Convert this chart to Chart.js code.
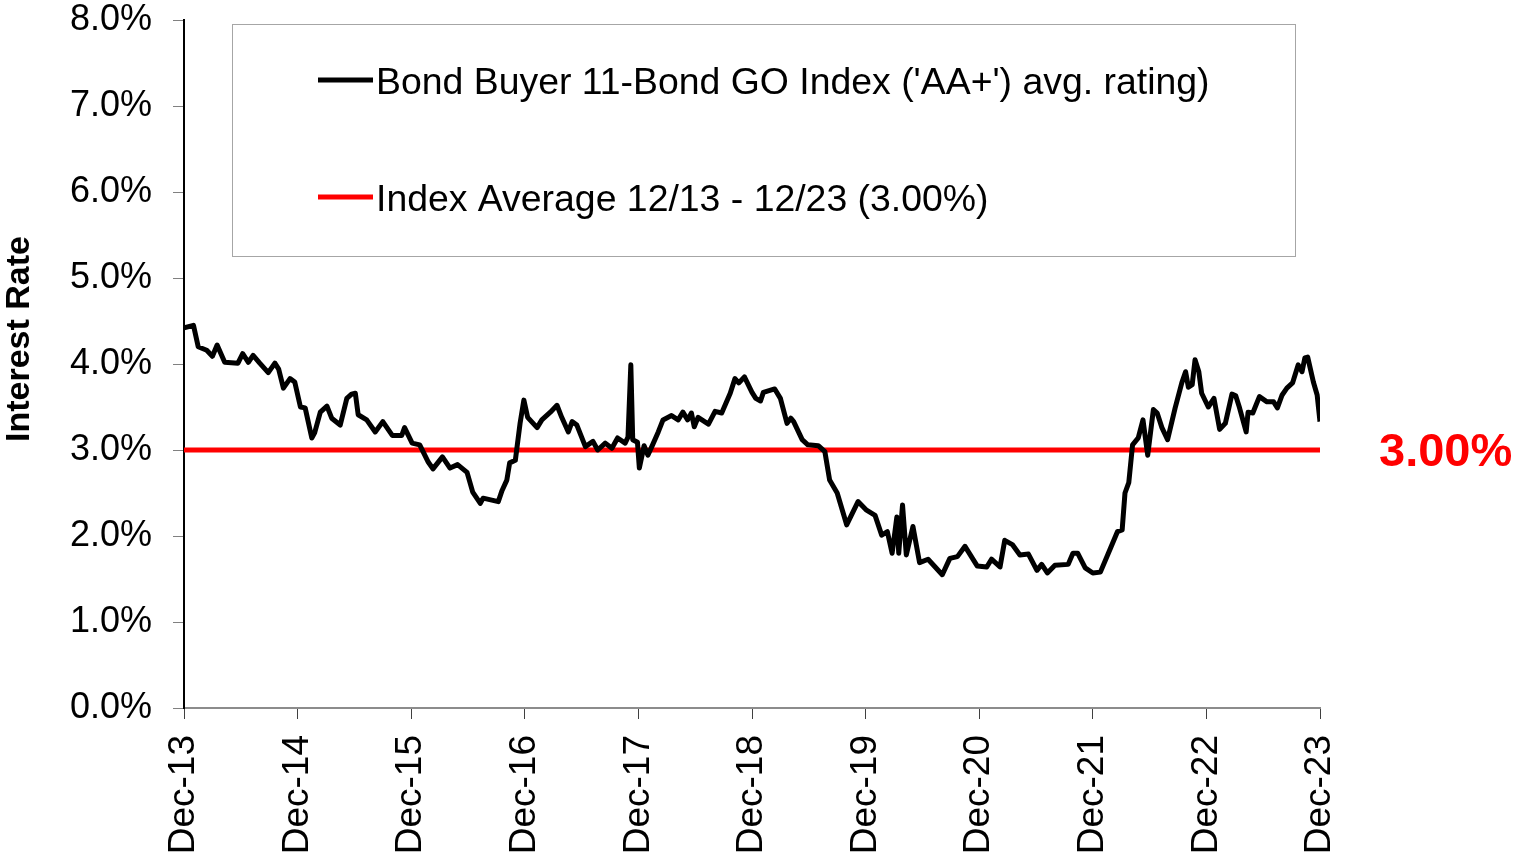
<!DOCTYPE html>
<html>
<head>
<meta charset="utf-8">
<script src="https://cdn.jsdelivr.net/npm/chart.js@4"></script>
<style>
  body { margin: 0; background: #fff; }
  canvas { display: block; }
</style>
</head>
<body>
<canvas id="myChart" width="1514" height="853"></canvas>
<script>
// months after Dec-13
var months = [0, 1.0, 1.5, 2.4, 3.0, 3.5, 4.3, 5.7, 6.2, 6.8, 7.3, 8.0, 8.9, 9.6, 10.0, 10.5, 11.2, 11.7,
  12.3, 12.8, 13.5, 13.8, 14.4, 15.1, 15.6, 16.5, 17.2, 17.7, 18.1, 18.4, 19.3, 20.2, 21.0, 22.0, 23.0, 23.3,
  24.1, 24.9, 25.8, 26.3, 27.3, 28.1, 28.9, 29.9, 30.5, 31.3, 31.6, 33.2, 33.6, 34.1, 34.4, 35.0, 35.5, 35.9,
  36.3, 37.3, 37.8, 38.7, 39.4, 39.9, 40.6, 41.0, 41.5, 42.4, 43.2, 43.7, 44.5, 45.2, 45.8, 46.6, 46.9, 47.2,
  47.4, 47.9, 48.1, 48.6, 49.0, 49.5, 50.1, 50.6, 51.5, 52.2, 52.7, 53.2, 53.6, 53.9, 54.3, 55.4, 56.1, 56.8,
  57.7, 58.2, 58.6, 59.2, 60.0, 60.4, 60.9, 61.2, 62.4, 63.0, 63.7, 64.1, 64.4, 65.3, 65.9, 67.0, 67.7, 68.2,
  69.0, 70.0, 71.2, 72.1, 73.0, 73.7, 74.3, 74.8, 75.3, 75.5, 75.9, 76.3, 77.0, 77.7, 78.6, 80.1, 80.9, 81.7,
  82.5, 83.8, 84.8, 85.3, 86.2, 86.7, 87.5, 88.3, 89.2, 90.1, 90.6, 91.2, 92.0, 93.4, 93.9, 94.4, 95.2, 96.0,
  96.8, 97.8, 98.6, 99.1, 99.4, 99.8, 100.2, 100.8, 101.3, 101.8, 102.4, 102.8, 103.3, 103.9, 104.7, 105.4,
  105.8, 106.1, 106.5, 106.8, 107.2, 107.5, 108.2, 108.8, 109.4, 110.0, 110.7, 111.1, 111.5, 112.2, 112.4,
  112.9, 113.6, 114.4, 115.1, 115.5, 116.0, 116.5, 117.1, 117.7, 118.1, 118.4, 118.7, 119.3, 119.7, 120.0];

var rates = [4.42, 4.45, 4.20, 4.16, 4.09, 4.22, 4.02, 4.01, 4.12, 4.02, 4.10, 4.01, 3.90, 4.01, 3.94, 3.72, 3.83, 3.79,
  3.50, 3.49, 3.14, 3.20, 3.44, 3.51, 3.37, 3.29, 3.60, 3.65, 3.66, 3.41, 3.35, 3.21, 3.33, 3.17, 3.17, 3.26,
  3.08, 3.06, 2.86, 2.78, 2.92, 2.79, 2.83, 2.74, 2.51, 2.38, 2.44, 2.40, 2.53, 2.65, 2.85, 2.88, 3.31, 3.58,
  3.38, 3.26, 3.35, 3.44, 3.52, 3.38, 3.21, 3.33, 3.29, 3.04, 3.10, 3.00, 3.08, 3.02, 3.14, 3.08, 3.15, 3.99,
  3.12, 3.09, 2.79, 3.05, 2.94, 3.06, 3.21, 3.35, 3.40, 3.35, 3.44, 3.35, 3.43, 3.27, 3.38, 3.30, 3.45, 3.43,
  3.66, 3.83, 3.78, 3.85, 3.67, 3.60, 3.57, 3.67, 3.71, 3.60, 3.31, 3.37, 3.33, 3.12, 3.06, 3.05, 2.98, 2.65,
  2.50, 2.13, 2.40, 2.30, 2.24, 2.01, 2.05, 1.80, 2.22, 1.80, 2.36, 1.78, 2.11, 1.69, 1.73, 1.55, 1.74, 1.76,
  1.88, 1.65, 1.64, 1.73, 1.64, 1.95, 1.90, 1.78, 1.79, 1.60, 1.67, 1.57, 1.66, 1.67, 1.80, 1.80, 1.63, 1.57,
  1.58, 1.84, 2.05, 2.07, 2.50, 2.62, 3.06, 3.14, 3.35, 2.94, 3.47, 3.43, 3.26, 3.12, 3.49, 3.78,
  3.91, 3.73, 3.76, 4.05, 3.91, 3.66, 3.50, 3.60, 3.24, 3.31, 3.65, 3.63, 3.49, 3.21, 3.44,
  3.43, 3.62, 3.56, 3.56, 3.49, 3.64, 3.72, 3.78, 3.99, 3.91, 4.07, 4.08, 3.79, 3.64, 3.33];

var avgRate = 3.00;
var tickLabels = ['Dec-13', 'Dec-14', 'Dec-15', 'Dec-16', 'Dec-17', 'Dec-18', 'Dec-19', 'Dec-20', 'Dec-21', 'Dec-22', 'Dec-23'];
var seriesNames = ["Bond Buyer 11-Bond GO Index ('AA+') avg. rating)", 'Index Average 12/13 - 12/23 (3.00%)'];
var yTitle = 'Interest Rate';

Chart.defaults.font.family = "'Liberation Sans', Arial, sans-serif";
Chart.defaults.color = '#000';

var indexPoints = months.map(function (m, i) { return { x: m, y: rates[i] }; });
var avgPoints = [{ x: 0, y: avgRate }, { x: 120, y: avgRate }];

// legend box, axis title and the red label on the right
var extras = {
  id: 'extras',
  afterDraw: function (chart) {
    var ctx = chart.ctx;
    ctx.save();
    ctx.fillStyle = '#fff';
    ctx.fillRect(232, 24, 1063, 232);
    ctx.strokeStyle = '#a6a6a6';
    ctx.lineWidth = 1;
    ctx.strokeRect(232.5, 24.5, 1063, 232);

    var rows = [80, 197];
    chart.data.datasets.forEach(function (ds, i) {
      ctx.strokeStyle = ds.borderColor;
      ctx.lineWidth = 5;
      ctx.beginPath();
      ctx.moveTo(318, rows[i]);
      ctx.lineTo(373, rows[i]);
      ctx.stroke();
      ctx.fillStyle = '#000';
      ctx.font = "37.4px 'Liberation Sans', Arial";
      ctx.textBaseline = 'middle';
      ctx.textAlign = 'left';
      ctx.fillText(ds.label, 376, rows[i] + 4);
    });

    // y axis title
    ctx.save();
    ctx.translate(20, 339);
    ctx.rotate(-Math.PI / 2);
    ctx.font = "bold 34px 'Liberation Sans', Arial";
    ctx.textAlign = 'center';
    ctx.textBaseline = 'middle';
    ctx.fillStyle = '#000';
    ctx.fillText(yTitle, 0, 0);
    ctx.restore();

    var y = chart.scales.y.getPixelForValue(avgRate);
    ctx.fillStyle = '#ff0000';
    ctx.font = "bold 47px 'Liberation Sans', Arial";
    ctx.textBaseline = 'middle';
    ctx.textAlign = 'left';
    ctx.fillText(avgRate.toFixed(2) + '%', 1379, y + 3);
    ctx.restore();
  }
};

var ctx = document.getElementById('myChart').getContext('2d');
var myChart = new Chart(ctx, {
  type: 'line',
  data: {
    datasets: [{
      label: seriesNames[0],
      data: indexPoints,
      borderColor: '#000',
      borderWidth: 5,
      pointRadius: 0,
      tension: 0,
      borderJoinStyle: 'round'
    }, {
      label: seriesNames[1],
      data: avgPoints,
      borderColor: '#ff0000',
      borderWidth: 5,
      pointRadius: 0
    }]
  },
  options: {
    responsive: false,
    animation: false,
    layout: { padding: { top: 20, right: 194, left: 0, bottom: 0 } },
    plugins: {
      legend: { display: false },
      tooltip: { enabled: false }
    },
    scales: {
      x: {
        type: 'linear',
        min: 0,
        max: 120,
        afterBuildTicks: function (scale) {
          scale.ticks = tickLabels.map(function (t, i) { return { value: i * 12 }; });
        },
        afterFit: function (scale) {
          scale.height = 145;
          scale.paddingLeft = 0;
          scale.paddingRight = 0;
        },
        ticks: {
          minRotation: 90,
          maxRotation: 90,
          padding: 16,
          font: { size: 37 },
          color: '#000',
          callback: function (v) { return tickLabels[Math.round(v / 12)]; }
        },
        grid: { drawOnChartArea: false, tickLength: 11, color: '#404040' },
        border: { color: '#8c8c8c', width: 2 }
      },
      y: {
        min: 0,
        max: 8,
        afterFit: function (scale) {
          scale.width = 184;
          scale.paddingTop = 0;
          scale.paddingBottom = 0;
        },
        ticks: {
          stepSize: 1,
          padding: 21,
          font: { size: 36 },
          color: '#000',
          callback: function (v) { return v.toFixed(1) + '%'; }
        },
        grid: { drawOnChartArea: false, tickLength: 11, color: '#808080' },
        border: { color: '#000', width: 2 }
      }
    }
  },
  plugins: [extras]
});
</script>
</body>
</html>
